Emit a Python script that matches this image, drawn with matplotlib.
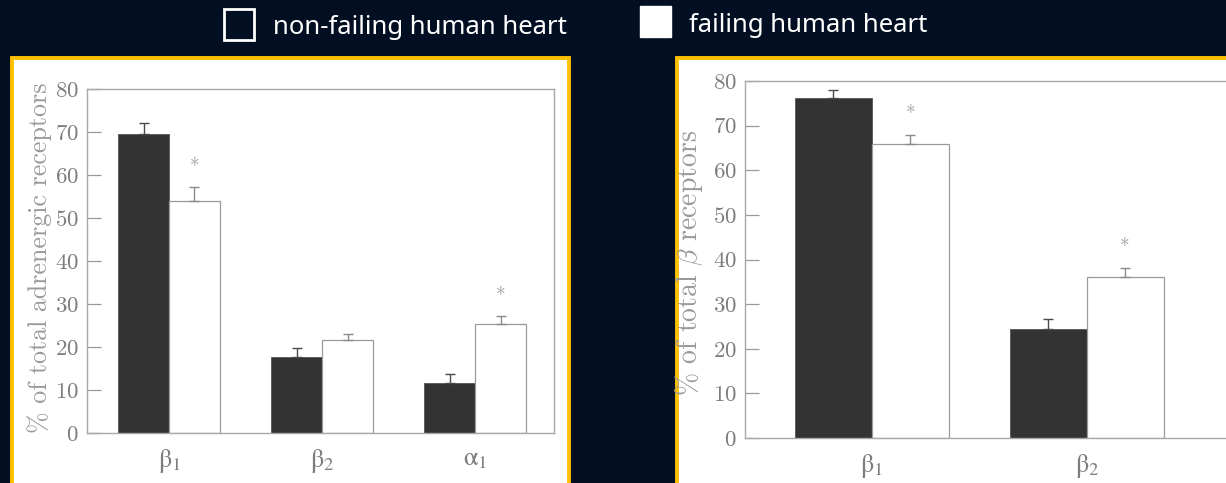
import matplotlib

matplotlib.use("Agg")
import matplotlib.pyplot as plt
import numpy as np
from matplotlib.patches import Rectangle

# adrenergic receptor subtypes, % of total (left) and beta subtypes, % of total beta (right)
adr_labels = [r"$\mathrm{\beta}_1$", r"$\mathrm{\beta}_2$", r"$\mathrm{\alpha}_1$"]
adr_nonfailing = [69.6, 17.6, 11.6]
adr_nonfailing_err = [2.6, 2.2, 2.1]
adr_failing = [54.0, 21.6, 25.3]
adr_failing_err = [3.2, 1.5, 2.0]
adr_signif = [True, False, True]

beta_labels = [r"$\mathrm{\beta}_1$", r"$\mathrm{\beta}_2$"]
beta_nonfailing = [76.1, 24.5]
beta_nonfailing_err = [1.9, 2.1]
beta_failing = [65.9, 36.0]
beta_failing_err = [2.1, 2.1]
beta_signif = [True, True]

legend_labels = ["non-failing human heart", "failing human heart"]

W, H = 1226, 483
BG = "#020f22"
GOLD = "#ffc000"
DARK_BAR = "#333333"
INK = "#7d7d7d"

plt.rcParams["mathtext.fontset"] = "cm"
plt.rcParams["font.family"] = "cmr10"
plt.rcParams["axes.formatter.use_mathtext"] = True

fig = plt.figure(figsize=(W / 100, H / 100), dpi=100, facecolor=BG)


def fx(px):
    return px / W


def fy(py):
    return 1 - py / H


def panel(x0, x1, y0):
    # white card with gold frame behind each chart
    fig.patches.append(Rectangle((fx(x0), fy(H + 20)), fx(x1 - x0), fy(y0) - fy(H + 20),
                                 transform=fig.transFigure, facecolor="white",
                                 edgecolor=GOLD, linewidth=2.8, zorder=-5))


def bars(ax, labels, dark, dark_err, light, light_err, signif, width, ylabel, ylabel_size):
    x = np.arange(len(labels), dtype=float)
    ax.bar(x - width / 2, dark, width, color=DARK_BAR, edgecolor="#555555", linewidth=0.6, zorder=2)
    ax.bar(x + width / 2, light, width, color="white", edgecolor="#9a9a9a", linewidth=0.9, zorder=2)
    ax.errorbar(x - width / 2, dark, yerr=[np.zeros(len(x)), dark_err], fmt="none",
                ecolor="#4a4a4a", elinewidth=1.0, capsize=3.5, capthick=1.0, zorder=3)
    ax.errorbar(x + width / 2, light, yerr=[np.zeros(len(x)), light_err], fmt="none",
                ecolor="#8a8a8a", elinewidth=1.0, capsize=3.5, capthick=1.0, zorder=3)
    for xi, v, e, s in zip(x, light, light_err, signif):
        if s:
            ax.text(xi + width / 2, v + e + 4.4, "*", ha="center", va="center",
                    fontsize=14, color="#a0a0a0")
    ax.set_ylim(0, 80)
    ax.set_yticks(np.arange(0, 81, 10))
    ax.set_xticks(x)
    ax.set_xticklabels(labels, fontsize=19, color=INK, math_fontfamily="stix")
    ax.tick_params(axis="y", direction="in", length=10, width=0.9, color="#9a9a9a",
                   labelsize=16.5, labelcolor=INK, pad=6)
    ax.tick_params(axis="x", length=0, pad=10)
    for sp in ax.spines.values():
        sp.set_color("#a8a8a8")
        sp.set_linewidth(1.0)
    ax.set_facecolor("white")
    ax.set_ylabel(ylabel, fontsize=ylabel_size, color="#9a9a9a")


panel(12, 569, 58)
panel(677, 1245, 58)

ax1 = fig.add_axes([fx(87), fy(433), fx(554 - 87), fy(89) - fy(433)])
bars(ax1, adr_labels, adr_nonfailing, adr_nonfailing_err, adr_failing, adr_failing_err,
     adr_signif, 0.333, "% of total adrenergic receptors", 18.7)
ax1.set_xlim(-0.536, 2.516)
ax1.yaxis.set_label_coords(-0.075, 0.51)

ax2 = fig.add_axes([fx(745), fy(438), fx(1250 - 745), fy(81) - fy(438)])
bars(ax2, beta_labels, beta_nonfailing, beta_nonfailing_err, beta_failing, beta_failing_err,
     beta_signif, 0.358, r"% of total $\beta$ receptors", 20)
ax2.set_xlim(-0.59, 1.76)
ax2.yaxis.set_label_coords(-0.079, 0.49)

# legend along the top
fig.patches.append(Rectangle((fx(224), fy(40)), fx(30), fy(9) - fy(40), transform=fig.transFigure,
                             facecolor="none", edgecolor="white", linewidth=2.0))
fig.text(fx(273), fy(27), legend_labels[0], fontsize=18.5, color="white",
         family="Noto Sans", weight="light", va="center", ha="left")
fig.patches.append(Rectangle((fx(640), fy(37)), fx(31), fy(6) - fy(37), transform=fig.transFigure,
                             facecolor="white", edgecolor="white", linewidth=1.0))
fig.text(fx(689), fy(26), legend_labels[1], fontsize=18.5, color="white",
         family="Noto Sans", weight="light", va="center", ha="left")

fig.savefig("out.png", dpi=100, facecolor=BG)
